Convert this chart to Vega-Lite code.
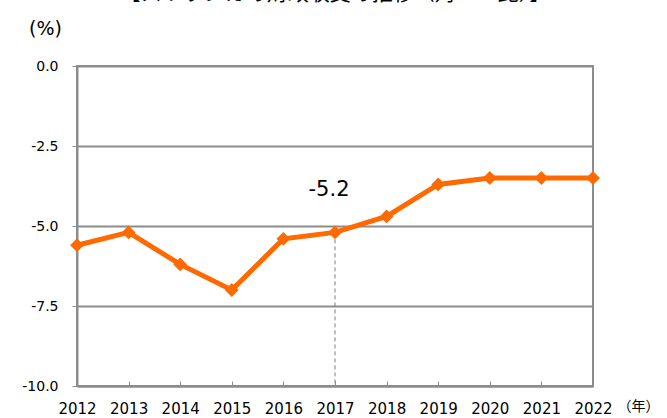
{
  "$schema": "https://vega.github.io/schema/vega-lite/v6.json",
  "autosize": "none",
  "width": 516,
  "height": 320,
  "padding": {"left": 77, "top": 66, "right": 74, "bottom": 32},
  "background": "white",
  "config": {
    "font": "DejaVu Sans",
    "view": {"stroke": "#8c8c8c", "strokeWidth": 2}
  },
  "title": {
    "text": "【スリランカの財政収支の推移（対GDP比）】",
    "font": "Noto Sans CJK JP",
    "fontSize": 21,
    "fontWeight": "normal",
    "color": "#000000",
    "anchor": "middle",
    "baseline": "bottom",
    "offset": -6
  },
  "data": {
    "values": [
      {"year": 2012, "value": -5.6},
      {"year": 2013, "value": -5.2},
      {"year": 2014, "value": -6.2},
      {"year": 2015, "value": -7.0},
      {"year": 2016, "value": -5.4},
      {"year": 2017, "value": -5.2, "label": "-5.2"},
      {"year": 2018, "value": -4.7},
      {"year": 2019, "value": -3.7},
      {"year": 2020, "value": -3.5},
      {"year": 2021, "value": -3.5},
      {"year": 2022, "value": -3.5}
    ]
  },
  "encoding": {
    "x": {
      "field": "year",
      "type": "quantitative",
      "scale": {"domain": [2012, 2022], "nice": false, "zero": false},
      "axis": {
        "values": [2012, 2013, 2014, 2015, 2016, 2017, 2018, 2019, 2020, 2021, 2022],
        "format": "d",
        "grid": false,
        "labelOverlap": false,
        "labelFlush": false,
        "domain": true,
        "domainColor": "#8c8c8c",
        "domainWidth": 2,
        "ticks": true,
        "tickSize": -5,
        "tickColor": "#8c8c8c",
        "tickWidth": 1,
        "labelFontSize": 15,
        "labelColor": "#000000",
        "labelPadding": 20,
        "labelFont": "DejaVu Sans",
        "title": "（年）",
        "titleFont": "Noto Sans CJK JP",
        "titleFontSize": 14,
        "titleFontWeight": "normal",
        "titleColor": "#000000",
        "titleAlign": "center",
        "titleBaseline": "middle",
        "titleX": 561,
        "titleY": 20
      }
    },
    "y": {
      "field": "value",
      "type": "quantitative",
      "scale": {"domain": [-10, 0], "nice": false},
      "axis": {
        "values": [-10, -7.5, -5, -2.5, 0],
        "format": ".1f",
        "labelExpr": "replace(datum.label, '−', '-')",
        "grid": true,
        "gridColor": "#8c8c8c",
        "gridWidth": 2,
        "domain": true,
        "domainColor": "#8c8c8c",
        "domainWidth": 2,
        "tickSize": 5,
        "tickColor": "#8c8c8c",
        "labelFontSize": 14,
        "labelColor": "#000000",
        "labelPadding": 14,
        "labelFont": "DejaVu Sans",
        "title": "(%)",
        "titleAngle": 0,
        "titleFont": "DejaVu Sans",
        "titleFontSize": 19,
        "titleFontWeight": "normal",
        "titleColor": "#000000",
        "titleX": -32,
        "titleY": -38,
        "titleAlign": "center",
        "titleBaseline": "middle"
      }
    }
  },
  "layer": [
    {
      "transform": [{"filter": "datum.year == 2017"}],
      "mark": {"type": "rule", "color": "#7f7f7f", "strokeDash": [4, 3], "strokeWidth": 1},
      "encoding": {"y2": {"datum": -10}}
    },
    {
      "mark": {"type": "line", "color": "#ff6a00", "strokeWidth": 5}
    },
    {
      "mark": {"type": "point", "shape": "diamond", "filled": true, "color": "#ff6a00", "size": 190, "opacity": 1}
    },
    {
      "transform": [{"filter": "datum.label != null"}],
      "mark": {"type": "text", "fontSize": 21, "font": "DejaVu Sans", "color": "#000000", "dy": -42, "dx": -6},
      "encoding": {"text": {"field": "label"}}
    }
  ]
}
